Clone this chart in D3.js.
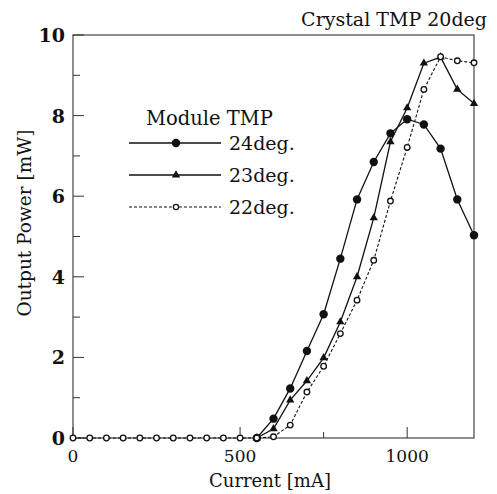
<!DOCTYPE html>
<html>
<head>
<meta charset="utf-8">
<style>
  body { margin: 0; background: #fff; }
  svg text { font-family: "DejaVu Serif", serif; fill: #111; }
</style>
</head>
<body>
<div id="chart"></div>
<script src="https://d3js.org/d3.v7.min.js"></script>
<script>
// ---- data ----
var current22 = [0,50,100,150,200,250,300,350,400,450,500,550,600,650,700,750,800,850,900,950,1000,1050,1100,1150,1200];
var power22   = [0,0,0,0,0,0,0,0,0,0,0,0,0.03,0.32,1.14,1.78,2.59,3.42,4.41,5.88,7.21,8.65,9.46,9.36,9.31];
var current23 = [550,600,650,700,750,800,850,900,950,1000,1050,1100,1150,1200];
var power23   = [0,0.23,0.94,1.42,1.99,2.88,4.0,5.46,7.35,8.19,9.30,9.45,8.65,8.30];
var current24 = [550,600,650,700,750,800,850,900,950,1000,1050,1100,1150,1200];
var power24   = [0,0.48,1.23,2.16,3.07,4.45,5.92,6.85,7.56,7.91,7.78,7.18,5.92,5.03];

var xMajor = [0, 500, 1000];
var xMinor = [750];
var yMajor = [0, 2, 4, 6, 8, 10];
var yMinor = [1, 3, 5, 7, 9];
var legendLabels = ["24deg.", "23deg.", "22deg."];

var width = 497, height = 494;
var margin = {top: 35, right: 23, bottom: 56, left: 73};

var svg = d3.select("#chart").append("svg")
    .attr("width", width)
    .attr("height", height);

var x = d3.scaleLinear().domain([0, 1200]).range([margin.left, width - margin.right]);
var y = d3.scaleLinear().domain([0, 10]).range([height - margin.bottom, margin.top]);

// frame
svg.append("rect")
    .attr("x", x(0)).attr("y", y(10))
    .attr("width", x(1200) - x(0)).attr("height", y(0) - y(10))
    .attr("fill", "none").attr("stroke", "#333").attr("stroke-width", 1.1);

// ticks (inside)
svg.selectAll(".ytick").data(yMajor.concat(yMinor)).enter().append("line")
    .attr("x1", x(0)).attr("x2", function(d) { return x(0) + (d % 2 == 0 ? 11 : 7); })
    .attr("y1", function(d) { return y(d); }).attr("y2", function(d) { return y(d); })
    .attr("stroke", "#333").attr("stroke-width", 1);

svg.selectAll(".xtick").data(xMajor.concat(xMinor)).enter().append("line")
    .attr("x1", function(d) { return x(d); }).attr("x2", function(d) { return x(d); })
    .attr("y1", y(0)).attr("y2", function(d) { return y(0) - (xMajor.indexOf(d) >= 0 ? 11 : 6); })
    .attr("stroke", "#333").attr("stroke-width", 1);

// tick labels
svg.selectAll(".ylab").data(yMajor).enter().append("text")
    .attr("x", x(0) - 8).attr("y", function(d) { return y(d) + 7; })
    .attr("text-anchor", "end")
    .style("font-size", "19px").style("font-weight", "bold")
    .text(function(d) { return d; });

svg.selectAll(".xlab").data(xMajor).enter().append("text")
    .attr("x", function(d) { return x(d); }).attr("y", y(0) + 24)
    .attr("text-anchor", "middle")
    .style("font-size", "17px")
    .text(function(d) { return d; });

// axis titles
svg.append("text")
    .attr("x", 270).attr("y", 487)
    .attr("text-anchor", "middle")
    .style("font-size", "18px")
    .text("Current [mA]");

svg.append("text")
    .attr("transform", "rotate(-90)")
    .attr("x", -223).attr("y", 31)
    .attr("text-anchor", "middle")
    .style("font-size", "18.5px")
    .text("Output Power [mW]");

svg.append("text")
    .attr("x", 487).attr("y", 26)
    .attr("text-anchor", "end")
    .style("font-size", "19px")
    .text("Crystal TMP 20deg");

// lines
var line = d3.line()
    .x(function(d) { return x(d[0]); })
    .y(function(d) { return y(d[1]); });

var s24 = d3.zip(current24, power24);
var s23 = d3.zip(current23, power23);
var s22 = d3.zip(current22, power22);

svg.append("path").datum(s24).attr("d", line)
    .attr("fill", "none").attr("stroke", "#111").attr("stroke-width", 1.3);
svg.append("path").datum(s23).attr("d", line)
    .attr("fill", "none").attr("stroke", "#111").attr("stroke-width", 1.3);
svg.append("path").datum(s22).attr("d", line)
    .attr("fill", "none").attr("stroke", "#111").attr("stroke-width", 1.1)
    .attr("stroke-dasharray", "3,2");

// markers
var tri = d3.symbol().type(d3.symbolTriangle).size(30);

svg.selectAll(".m24").data(s24).enter().append("circle")
    .attr("cx", function(d) { return x(d[0]); }).attr("cy", function(d) { return y(d[1]); })
    .attr("r", 4.2).attr("fill", "#111");

svg.selectAll(".m23").data(s23).enter().append("path")
    .attr("d", tri)
    .attr("transform", function(d) { return "translate(" + x(d[0]) + "," + y(d[1]) + ")"; })
    .attr("fill", "#111");

svg.selectAll(".m22").data(s22).enter().append("circle")
    .attr("cx", function(d) { return x(d[0]); }).attr("cy", function(d) { return y(d[1]); })
    .attr("r", 2.8).attr("fill", "#fff").attr("stroke", "#111").attr("stroke-width", 1.3);

// legend
var lg = svg.append("g");
lg.append("text")
    .attr("x", 146).attr("y", 125)
    .style("font-size", "19.5px")
    .text("Module TMP");

var rows = [143, 175, 207];
legendLabels.forEach(function(lab, i) {
    var ly = rows[i];
    var ln = lg.append("line")
        .attr("x1", 129).attr("x2", 221).attr("y1", ly).attr("y2", ly)
        .attr("stroke", "#111").attr("stroke-width", i == 2 ? 1.1 : 1.3);
    if (i == 2) ln.attr("stroke-dasharray", "3,2");
    if (i == 0) {
        lg.append("circle").attr("cx", 176).attr("cy", ly).attr("r", 4.2).attr("fill", "#111");
    } else if (i == 1) {
        lg.append("path").attr("d", tri).attr("transform", "translate(176," + ly + ")").attr("fill", "#111");
    } else {
        lg.append("circle").attr("cx", 176).attr("cy", ly).attr("r", 2.6)
            .attr("fill", "#fff").attr("stroke", "#111").attr("stroke-width", 1.2);
    }
    lg.append("text")
        .attr("x", 229).attr("y", ly + 7)
        .style("font-size", "19px")
        .text(lab);
});
</script>
</body>
</html>
